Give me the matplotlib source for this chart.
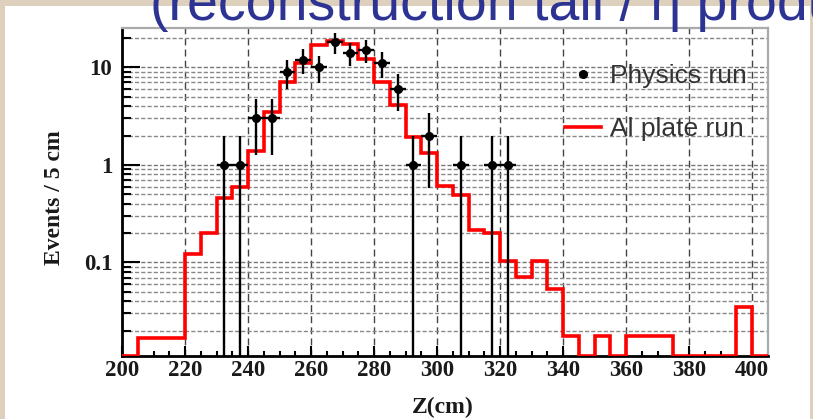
import numpy as np
import matplotlib
matplotlib.use("Agg")
import matplotlib.pyplot as plt
from matplotlib.lines import Line2D
from matplotlib.patches import Rectangle
from matplotlib.ticker import FixedLocator, LogLocator, MultipleLocator, NullFormatter

# Al plate run, normalised, 5 cm bins starting at 200 cm
bin_lo = 200
bin_width = 5
al_plate = [0, 0.017, 0.017, 0.017, 0.122, 0.2, 0.46, 0.6, 1.4, 3.5,
            7.0, 11.0, 16.8, 18.7, 17.3, 12.1, 7.1, 4.1, 1.95, 1.33,
            0.61, 0.49, 0.213, 0.2, 0.104, 0.071, 0.104, 0.053, 0.0175, 0,
            0.0175, 0, 0.0175, 0.0175, 0.0175, 0, 0, 0, 0, 0.035, 0]

# Physics run, events per bin (bin centres)
phys_z = [232.5, 237.5, 242.5, 247.5, 252.5, 257.5, 262.5, 267.5, 272.5,
          277.5, 282.5, 287.5, 292.5, 297.5, 307.5, 317.5, 322.5]
phys_n = [1, 1, 3, 3, 9, 12, 10, 18, 14, 15, 11, 6, 1, 2, 1, 1, 1]

y_ticks = [0.1, 1, 10]
y_ticklabels = ["0.1", "1", "10"]
x_ticks = [200, 220, 240, 260, 280, 300, 320, 340, 360, 380, 400]

title_text = "(reconstruction tail / η production)"

serif = ["Liberation Serif", "DejaVu Serif"]
sans = ["Liberation Sans", "DejaVu Sans"]
narrow = ["Liberation Sans Narrow", "Liberation Sans", "DejaVu Sans"]

y_lo, y_hi = 0.011, 25

fig = plt.figure(figsize=(8.13, 4.19), dpi=100, facecolor="#ddd1bd")
# white slide panel, behind everything
fig.patches.append(Rectangle((5 / 813, 0), 805 / 813, 413 / 419,
                             transform=fig.transFigure, facecolor="white",
                             edgecolor="none", zorder=-5))
fig.text(150 / 813, 1 - 20 / 419, title_text, color="#2d3393",
         fontsize=40, family=narrow, va="baseline", ha="left")

ax = fig.add_axes([122 / 813, 1 - 356 / 419, 646 / 813, 327.5 / 419])
ax.set_zorder(2)
ax.set_yscale("log")

edges = np.arange(bin_lo, bin_lo + bin_width * (len(al_plate) + 1), bin_width)
# empty bins sit on the frame like in ROOT
al_draw = np.clip(np.array(al_plate, dtype=float), y_lo, None)
ax.stairs(al_draw, edges, color="#ff0000", lw=2.6, zorder=3, baseline=None)

n = np.array(phys_n, dtype=float)
ax.errorbar(phys_z, n, yerr=np.sqrt(n), xerr=bin_width / 2, fmt="o",
            color="black", ms=5.5, elinewidth=1.7, capsize=0, zorder=4)

ax.set_xlim(200, 405)
ax.set_ylim(y_lo, y_hi)

ax.xaxis.set_major_locator(FixedLocator(x_ticks))
ax.xaxis.set_minor_locator(MultipleLocator(5))
ax.yaxis.set_major_locator(FixedLocator(y_ticks))
ax.yaxis.set_minor_locator(LogLocator(base=10, subs=np.arange(2, 10)))
ax.yaxis.set_minor_formatter(NullFormatter())
ax.set_yticklabels(y_ticklabels)

ax.tick_params(which="both", direction="in", width=1.5, color="black")
ax.tick_params(axis="x", which="major", length=7, pad=3)
ax.tick_params(axis="x", which="minor", length=3.5)
ax.tick_params(axis="y", which="major", length=13, pad=7)
ax.tick_params(axis="y", which="minor", length=6.5)
for lab in ax.get_xticklabels() + ax.get_yticklabels():
    lab.set_family(serif)
    lab.set_fontweight("bold")
    lab.set_fontsize(16.5)
    lab.set_color("#1a1a1a")

ax.grid(which="major", axis="x", color="#444444", lw=1.0, ls=(0, (5, 3)))
ax.grid(which="major", axis="y", color="#777777", lw=1.0, ls=(0, (3, 1.5)))
ax.grid(which="minor", axis="y", color="#888888", lw=1.0, ls=(0, (3, 1.5)))
ax.set_axisbelow(True)

for side in ["left", "bottom"]:
    ax.spines[side].set_linewidth(2)
    ax.spines[side].set_color("black")
for side in ["top", "right"]:
    ax.spines[side].set_linewidth(1.6)
    ax.spines[side].set_color("#aaaaaa")

ax.set_ylabel("Events / 5 cm", family=serif, fontweight="bold",
              fontsize=17, color="#1a1a1a")
ax.yaxis.set_label_coords(-0.088, 0.484)
ax.set_xlabel("Z(cm)", family=serif, fontweight="bold", fontsize=17,
              color="#1a1a1a")
ax.xaxis.set_label_coords(0.497, -0.125)

handles = [Line2D([], [], marker="o", ms=5.5, color="black", ls="none"),
           Line2D([], [], color="#ff0000", lw=2.6)]
ax.legend(handles, ["Physics run", "Al plate run"], loc="upper left",
          bbox_to_anchor=(0.686, 0.892), frameon=False, borderpad=0,
          borderaxespad=0, handlelength=1.35, handletextpad=0.35,
          labelspacing=1.1, prop={"family": sans, "size": 19},
          labelcolor="#333333")

fig.savefig("out.png", dpi=100, facecolor=fig.get_facecolor())
